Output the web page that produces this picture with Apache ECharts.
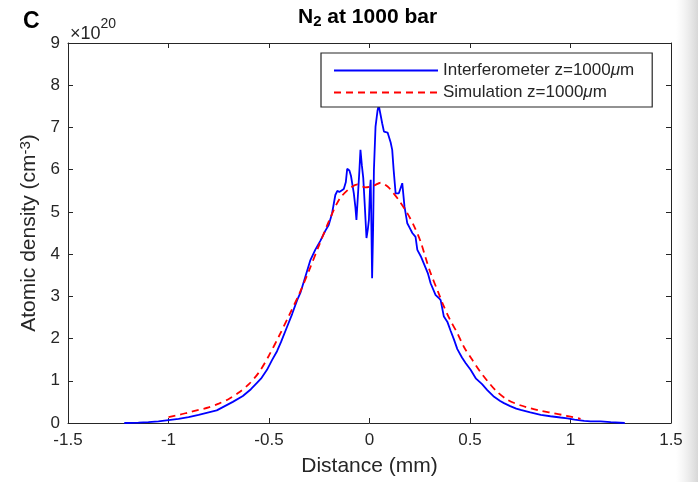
<!DOCTYPE html>
<html>
<head>
<meta charset="utf-8">
<script src="https://cdn.jsdelivr.net/npm/echarts@6/dist/echarts.min.js"></script>
<style>html,body{margin:0;padding:0;background:#fff}#c{width:698px;height:482px}</style>
</head>
<body>
<div id="c"></div>
<script>
// ---- data (x in mm, density in 1e20 cm^-3) ----
var blueX = [-1.22,-1.15,-1.10,-1.05,-1.00,-0.95,-0.90,-0.85,-0.81,-0.76,-0.72,-0.68,-0.63,-0.59,-0.56,-0.54,-0.51,-0.485,-0.46,-0.44,-0.41,-0.385,-0.36,-0.344,-0.32,-0.294,-0.27,-0.244,-0.22,-0.203,-0.186,-0.17,-0.16,-0.15,-0.128,-0.118,-0.111,-0.100,-0.092,-0.078,-0.070,-0.065,-0.058,-0.050,-0.045,-0.038,-0.031,-0.024,-0.015,-0.008,-0.003,0.003,0.006,0.009,0.013,0.018,0.022,0.030,0.040,0.046,0.055,0.063,0.072,0.080,0.090,0.096,0.105,0.113,0.120,0.130,0.146,0.163,0.174,0.188,0.200,0.213,0.229,0.238,0.255,0.27,0.29,0.304,0.329,0.345,0.354,0.37,0.387,0.404,0.42,0.437,0.46,0.478,0.503,0.53,0.56,0.586,0.62,0.65,0.669,0.70,0.73,0.752,0.80,0.852,0.90,0.95,0.985,1.02,1.068,1.10,1.15,1.20,1.27];
var blueY = [0.00,0.01,0.02,0.04,0.07,0.10,0.14,0.19,0.24,0.30,0.40,0.50,0.64,0.80,0.95,1.05,1.26,1.49,1.70,1.92,2.28,2.58,2.91,3.08,3.45,3.86,4.10,4.32,4.55,4.69,4.97,5.40,5.50,5.47,5.54,5.70,6.02,5.98,5.85,5.44,5.10,4.81,5.36,6.00,6.47,6.10,5.80,5.20,4.38,4.60,4.81,5.60,5.76,4.80,3.43,4.60,6.00,7.02,7.40,7.52,7.30,7.10,6.90,6.86,6.88,6.86,6.65,6.47,6.00,5.44,5.44,5.68,5.13,4.73,4.62,4.50,4.41,4.10,3.95,3.78,3.55,3.31,3.03,2.96,2.91,2.52,2.40,2.18,1.98,1.75,1.55,1.42,1.26,1.05,0.92,0.78,0.62,0.52,0.47,0.40,0.34,0.31,0.25,0.19,0.16,0.13,0.11,0.08,0.05,0.04,0.04,0.02,0.00];
var redX = [-1.00,-0.95,-0.90,-0.85,-0.80,-0.75,-0.70,-0.65,-0.60,-0.55,-0.50,-0.45,-0.40,-0.35,-0.30,-0.25,-0.20,-0.15,-0.10,-0.06,-0.02,0.02,0.055,0.09,0.12,0.15,0.188,0.22,0.254,0.28,0.304,0.34,0.37,0.40,0.437,0.47,0.512,0.55,0.586,0.63,0.686,0.75,0.80,0.85,0.918,0.96,1.00,1.05];
var redY = [0.14,0.19,0.25,0.31,0.37,0.46,0.57,0.72,0.92,1.20,1.60,2.06,2.55,3.05,3.62,4.22,4.80,5.30,5.55,5.65,5.58,5.62,5.69,5.60,5.44,5.25,4.97,4.68,4.30,3.90,3.55,3.12,2.76,2.45,2.13,1.80,1.49,1.22,1.00,0.76,0.55,0.42,0.35,0.29,0.23,0.19,0.15,0.10];
var seriesNames = ['Interferometer z=1000\u03bcm', 'Simulation z=1000\u03bcm'];

function pairs(xs, ys){ var out=[]; for (var i=0;i<xs.length;i++) out.push([xs[i], ys[i]]); return out; }

var TXT = '#262626';
var FONT = '"Liberation Sans", Arial, sans-serif';
var axisCommon = {
  type: 'value',
  axisLine: { show: true, onZero: false, lineStyle: { color: TXT, width: 1 } },
  axisTick: { show: true, inside: true, length: 5, lineStyle: { color: TXT } },
  splitLine: { show: false }
};

var chart = echarts.init(document.getElementById('c'), null, { renderer: 'canvas' });
chart.setOption({
  backgroundColor: '#ffffff',
  animation: false,
  textStyle: { fontFamily: FONT },
  title: [
    {
      text: '{b|N}{s|2}{b| at 1000 bar}',
      left: 293, top: 0,
      textStyle: {
        rich: {
          b: { fontSize: 21, fontWeight: 'bold', color: '#000', lineHeight: 24, fontFamily: FONT },
          s: { fontSize: 15, fontWeight: 'bold', color: '#000', lineHeight: 15, verticalAlign: 'bottom', fontFamily: FONT }
        }
      }
    },
    {
      text: 'C', left: 18, top: 5,
      textStyle: { fontSize: 23, fontWeight: 'bold', color: '#000', fontFamily: FONT }
    },
    {
      text: '{a|\u00d710}{p|20}',
      left: 65, top: 12,
      textStyle: {
        fontWeight: 'normal',
        rich: {
          a: { fontSize: 18, fontWeight: 'normal', color: TXT, lineHeight: 26, verticalAlign: 'bottom', fontFamily: FONT },
          p: { fontSize: 14, fontWeight: 'normal', color: TXT, lineHeight: 14, verticalAlign: 'top', fontFamily: FONT }
        }
      }
    }
  ],
  legend: {
    orient: 'vertical',
    left: 321, top: 53,
    data: seriesNames,
    itemWidth: 104, itemHeight: 14, itemGap: 5,
    padding: [9, 18, 6, 12],
    borderColor: TXT, borderWidth: 1.2,
    backgroundColor: '#fff',
    itemStyle: { opacity: 0 },
    formatter: function (n) { return n.replace('\u03bc', '{mu|\u03bc}'); },
    textStyle: {
      fontSize: 17, color: TXT, fontFamily: FONT,
      rich: { mu: { fontSize: 17, fontStyle: 'italic', color: TXT, fontFamily: FONT } }
    }
  },
  grid: { left: 68, right: 27, top: 43, bottom: 59, containLabel: false },
  xAxis: [
    Object.assign({}, axisCommon, {
      position: 'bottom', min: -1.5, max: 1.5, interval: 0.5,
      name: 'Distance (mm)', nameLocation: 'middle', nameGap: 33,
      nameTextStyle: { fontSize: 21, color: TXT, fontFamily: FONT },
      axisLabel: { fontSize: 17, color: TXT, margin: 9, fontFamily: FONT }
    }),
    Object.assign({}, axisCommon, {
      position: 'top', min: -1.5, max: 1.5, interval: 0.5,
      axisLabel: { show: false }
    })
  ],
  yAxis: [
    Object.assign({}, axisCommon, {
      position: 'left', min: 0, max: 9, interval: 1,
      name: 'Atomic density (cm{sup|-3})', nameLocation: 'middle', nameGap: 18, nameRotate: 90,
      nameTextStyle: {
        fontSize: 21, color: TXT, fontFamily: FONT,
        rich: { sup: { fontSize: 15, color: TXT, verticalAlign: 'top', lineHeight: 15, fontFamily: FONT } }
      },
      axisLabel: { fontSize: 17, color: TXT, margin: 8, fontFamily: FONT }
    }),
    Object.assign({}, axisCommon, {
      position: 'right', min: 0, max: 9, interval: 1,
      axisLabel: { show: false }
    })
  ],
  graphic: [
    {
      type: 'rect', silent: true, z: -10,
      shape: { x: 676, y: 0, width: 22, height: 482 },
      style: { fill: new echarts.graphic.LinearGradient(0, 0, 1, 0, [
        { offset: 0, color: 'rgba(230,230,230,0)' },
        { offset: 1, color: 'rgba(215,215,215,1)' }
      ]) }
    }
  ],
  series: [
    {
      name: seriesNames[0], type: 'line', xAxisIndex: 0, yAxisIndex: 0,
      data: pairs(blueX, blueY), symbol: 'none', smooth: false,
      lineStyle: { color: '#0000ff', width: 1.8 }, itemStyle: { color: '#0000ff' }, z: 3
    },
    {
      name: seriesNames[1], type: 'line', xAxisIndex: 0, yAxisIndex: 0,
      data: pairs(redX, redY), symbol: 'none', smooth: 0.3,
      lineStyle: { color: '#ff0000', width: 1.8, type: [7, 5] }, itemStyle: { color: '#ff0000' }, z: 4
    }
  ]
});
</script>
</body>
</html>
